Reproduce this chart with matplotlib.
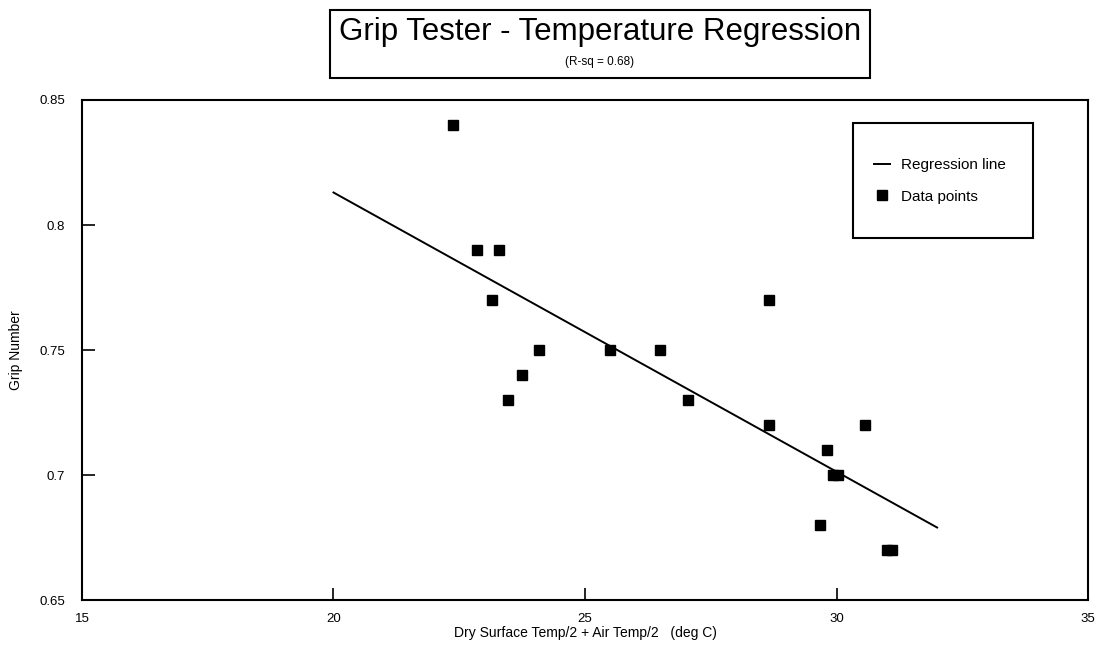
import matplotlib
matplotlib.use("Agg")
import matplotlib.pyplot as plt
from matplotlib.patches import Rectangle

plt.rcParams['font.family'] = ['Liberation Sans', 'DejaVu Sans']

# data
temp = [22.38, 22.85, 23.29, 23.15, 23.75, 23.46, 24.09, 25.50, 26.50,
        28.66, 28.66, 27.05, 29.82, 29.93, 30.03, 29.67, 30.57, 31.00, 31.10]
grip = [0.84, 0.79, 0.79, 0.77, 0.74, 0.73, 0.75, 0.75, 0.75,
        0.77, 0.72, 0.73, 0.71, 0.70, 0.70, 0.68, 0.72, 0.67, 0.67]

line_x = [20, 32]
line_y = [0.813, 0.679]

x_ticks = [15, 20, 25, 30, 35]
y_ticks = [0.65, 0.7, 0.75, 0.8, 0.85]
y_tick_labels = ["0.65", "0.7", "0.75", "0.8", "0.85"]

title = "Grip Tester - Temperature Regression"
subtitle = "(R-sq = 0.68)"

fig = plt.figure(figsize=(11.02, 6.51), dpi=100)
ax = fig.add_axes([0.0744, 0.0783, 0.9129, 0.7681])

ax.plot(line_x, line_y, color="black", lw=1.4, label="Regression line")
ax.plot(temp, grip, ls="none", marker="s", ms=7.5, color="black",
        label="Data points")

ax.set_xlim(15, 35)
ax.set_ylim(0.65, 0.85)
ax.set_xticks(x_ticks)
ax.set_yticks(y_ticks)
ax.set_yticklabels(y_tick_labels)
ax.tick_params(direction="in", length=9, width=1.2, labelsize=9.5, pad=9)
ax.tick_params(axis="y", pad=12)
for s in ax.spines.values():
    s.set_linewidth(1.5)

ax.set_xlabel("Dry Surface Temp/2 + Air Temp/2   (deg C)", fontsize=10, labelpad=1)
ax.set_ylabel("Grip Number", fontsize=10, labelpad=12)

# legend: frame drawn separately so its size matches the original box
ax.add_patch(Rectangle((0.766, 0.724), 0.179, 0.230, transform=ax.transAxes,
                       facecolor="white", edgecolor="black", lw=1.5, zorder=4))
leg = ax.legend(loc="upper left", bbox_to_anchor=(0.787, 0.884), frameon=False,
                fontsize=11, borderpad=0, borderaxespad=0, labelspacing=1.15,
                handlelength=1.05, handletextpad=0.72)
leg.set_zorder(5)

# boxed title
fig.patches.append(Rectangle((330 / 1102, 1 - 78 / 651), 540 / 1102, 68 / 651,
                             transform=fig.transFigure, facecolor="white",
                             edgecolor="black", lw=1.5))
fig.text(600 / 1102, 1 - 32 / 651, title, ha="center", va="center", fontsize=22.5)
fig.text(600 / 1102, 1 - 62 / 651, subtitle, ha="center", va="center", fontsize=8.5)

fig.savefig("out.png", dpi=100)
